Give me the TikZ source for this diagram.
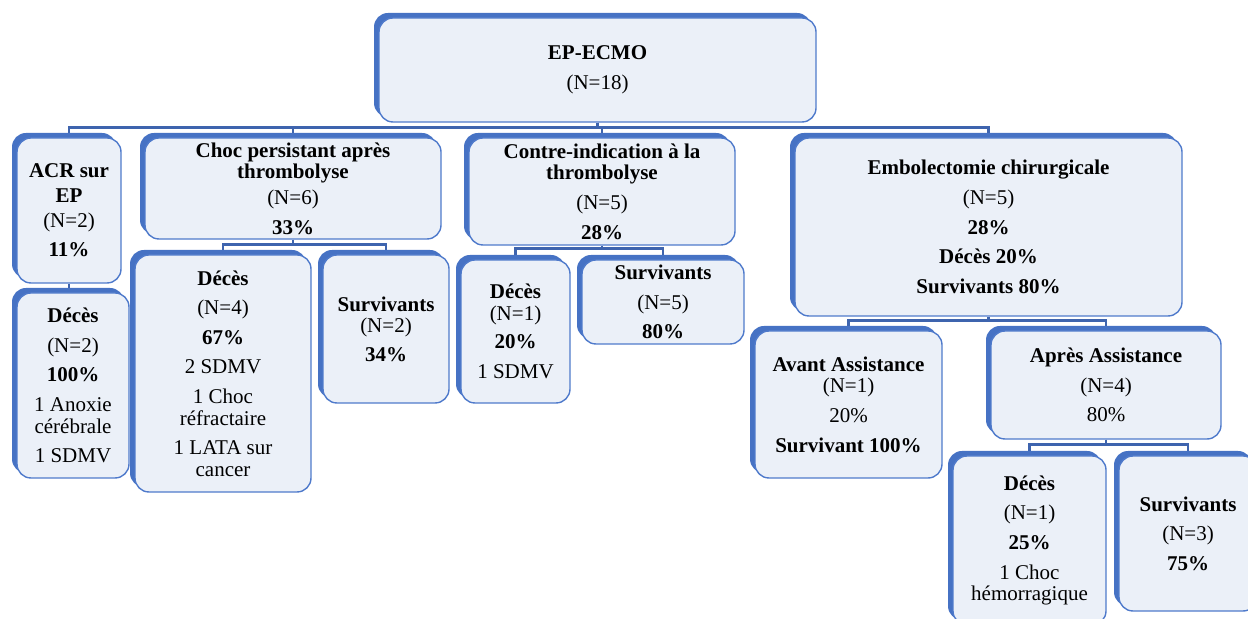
\documentclass[tikz,border=0pt]{standalone}
\usepackage{fontspec}
\setmainfont{Liberation Serif}
\usetikzlibrary{shadows,backgrounds}
\definecolor{boxblue}{HTML}{4F7ACB}
\definecolor{rimblue}{HTML}{4672C4}
\definecolor{boxfill}{HTML}{EBF0F8}
\definecolor{linkblue}{HTML}{3E64AE}

\begin{document}
\begin{tikzpicture}[x=0.5pt,y=-0.5pt,
    box/.style={draw=boxblue, line width=0.7pt, fill=boxfill, rounded corners=7pt,
      inner sep=0pt, align=center, font=\fontsize{10.5}{10.8}\selectfont,
      general shadow={fill=rimblue, shadow xshift=-2.5pt, shadow yshift=2.5pt}},
    boxsize/.style 2 args={minimum width=#1*0.5pt, minimum height=#2*0.5pt},
    link/.style={draw=linkblue, line width=1.4pt}]
    \useasboundingbox (0,0) rectangle (1248,619);

    % Top of the tree
    \node[box, boxsize={437}{104}] (root) at (597.5,70) {\textbf{EP-ECMO}\\[4pt](N=18)};

    % First level
    \node[box, boxsize={104}{145}] (acr) at (69,210.5) {\textbf{ACR sur}\\[1.5pt]\textbf{EP}\\[1.5pt](N=2)\\[4pt]\textbf{11\%}};
    \node[box, boxsize={296}{101}] (choc) at (293,188.5) {\textbf{Choc persistant après}\\\textbf{thrombolyse}\\[2pt](N=6)\\[4pt]\textbf{33\%}};
    \node[box, boxsize={266}{107}] (contre) at (602,191.5) {\textbf{Contre-indication à la}\\\textbf{thrombolyse}\\[4pt](N=5)\\[4pt]\textbf{28\%}};
    \node[box, boxsize={387}{178}] (embol) at (988.5,227) {\textbf{Embolectomie chirurgicale}\\[4pt](N=5)\\[4pt]\textbf{28\%}\\[4pt]\textbf{Décès 20\%}\\[4pt]\textbf{Survivants 80\%}};

    % Second level
    \node[box, boxsize={112}{185}] (acrdc) at (73,385.5) {\textbf{Décès}\\[4pt](N=2)\\[4pt]\textbf{100\%}\\[4pt]1 Anoxie\\cérébrale\\[4pt]1 SDMV};
    \node[box, boxsize={176}{237}] (chocdc) at (223,373.5) {\textbf{Décès}\\[4pt](N=4)\\[4pt]\textbf{67\%}\\[4pt]2 SDMV\\[4pt]1 Choc\\réfractaire\\[4pt]1 LATA sur\\cancer};
    \node[box, boxsize={126}{148}] (chocsv) at (386,329) {\textbf{Survivants}\\(N=2)\\[3.5pt]\textbf{34\%}};
    \node[box, boxsize={109}{143}] (contredc) at (515.5,331.5) {\textbf{Décès}\\(N=1)\\[3.5pt]\textbf{20\%}\\[4pt]1 SDMV};
    \node[box, boxsize={162}{84}] (contresv) at (663,302) {\textbf{Survivants}\\[4pt](N=5)\\[4pt]\textbf{80\%}};
    \node[box, boxsize={187}{147}] (avant) at (848.5,404.5) {\textbf{Avant Assistance}\\(N=1)\\[4pt]20\%\\[4pt]\textbf{Survivant 100\%}};
    \node[box, boxsize={230}{108}] (apres) at (1106,385) {\textbf{Après Assistance}\\[4pt](N=4)\\[4pt]80\%};

    % Third level
    \node[box, boxsize={153}{169}] (apresdc) at (1029.5,540.5) {\textbf{Décès}\\[4pt](N=1)\\[4pt]\textbf{25\%}\\[4pt]1 Choc\\hémorragique};
    \node[box, boxsize={138}{155}] (apressv) at (1188,533.5) {\textbf{Survivants}\\[4pt](N=3)\\[4pt]\textbf{75\%}};

    % Connectors behind the boxes
    \begin{scope}[on background layer, transform canvas={xshift=-2.75pt}]
        \draw[link] (root.south) -- ++(0,5) -| (acr.north);
        \draw[link] (root.south) -- ++(0,5) -| (choc.north);
        \draw[link] (root.south) -- ++(0,5) -| (contre.north);
        \draw[link] (root.south) -- ++(0,5) -| (embol.north);
        \draw[link] (acr.south) -- (acr.south |- acrdc.north);
        \draw[link] (choc.south) -- ++(0,5) -| (chocdc.north);
        \draw[link] (choc.south) -- ++(0,5) -| (chocsv.north);
        \draw[link] (contre.south) -- ++(0,3) -| (contredc.north);
        \draw[link] (contre.south) -- ++(0,3) -| (contresv.north);
        \draw[link] (embol.south) -- ++(0,4) -| (avant.north);
        \draw[link] (embol.south) -- ++(0,4) -| (apres.north);
        \draw[link] (apres.south) -- ++(0,5) -| (apresdc.north);
        \draw[link] (apres.south) -- ++(0,5) -| (apressv.north);
    \end{scope}
\end{tikzpicture}
\end{document}
